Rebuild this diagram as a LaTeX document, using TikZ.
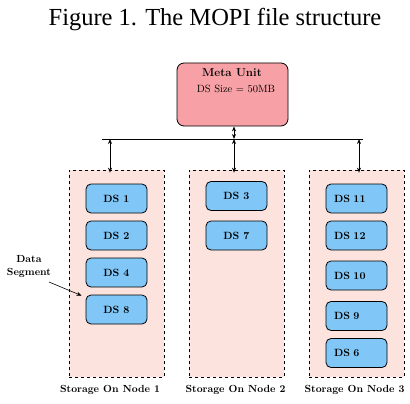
\documentclass[tikz,border=0pt]{standalone}
\usepackage{fontspec}
\newfontfamily\titlefont{Liberation Serif}
\usetikzlibrary{arrows.meta}
\definecolor{metafill}{RGB}{247,161,166}
\definecolor{storefill}{RGB}{253,227,222}
\definecolor{dsfill}{RGB}{128,198,247}
\tikzset{
  store/.style={draw=black, dashed, fill=storefill, minimum width=95pt, minimum height=207pt, inner sep=0pt, line width=0.7pt},
  dsbox/.style={draw=black, fill=dsfill, rounded corners=5pt, minimum width=61pt, minimum height=29pt, inner sep=0pt, line width=0.8pt, font=\fontsize{10.5}{12}\selectfont\bfseries},
  dsleft/.style={dsbox, text width=45pt, inner xsep=8pt, align=left},
  lbl/.style={font=\fontsize{10.3}{12}\selectfont\bfseries, inner sep=0pt},
  dbl/.style={{Stealth[length=5pt,width=4pt]}-{Stealth[length=5pt,width=4pt]}, line width=0.9pt},
  onearrow/.style={-{Stealth[length=5pt,width=4pt]}, line width=0.6pt}
}
\begin{document}
\begin{tikzpicture}[x=1pt,y=-1pt]
\useasboundingbox (0,0) rectangle (410,404);
\node[font=\titlefont\fontsize{24.5}{28}\selectfont, inner sep=0pt] (title) at (215,20) {Figure 1. The MOPI file structure};
% meta unit
\node[draw=black, fill=metafill, rounded corners=7pt, minimum width=111pt, minimum height=63pt, inner sep=0pt, line width=0.8pt] (meta) at (232.5,94.5) {};
\node[font=\fontsize{11.5}{13}\selectfont\bfseries, inner sep=0pt] (metat) at (232,73) {Meta Unit};
\node[font=\fontsize{10.5}{12}\selectfont, inner sep=0pt] (metas) at (236,89) {DS Size = 50MB};
% bus
\coordinate (busL) at (102,139);
\coordinate (busR) at (363,139);
\coordinate (b1) at (110,139);
\coordinate (b2) at (234,139);
\coordinate (b3) at (359,139);
\draw[line width=0.8pt] (busL) -- (busR);
% storage
\node[store] (s1) at (116.5,273.5) {};
\node[store] (s2) at (236.5,273.5) {};
\node[store] (s3) at (356.5,273.5) {};
\draw[dbl] (b2 |- meta.south) -- (b2);
\draw[dbl] (b1) -- ([yshift=-3pt]b1 |- s1.north);
\draw[dbl] (b2) -- ([yshift=-3pt]b2 |- s2.north);
\draw[dbl] (b3) -- ([yshift=-3pt]b3 |- s3.north);
% DS boxes
\node[dsbox] (ds1) at (116.5,198.5) {DS 1};
\node[dsbox] (ds2) at (116.5,235.5) {DS 2};
\node[dsbox] (ds4) at (116.5,272.5) {DS 4};
\node[dsbox] (ds8) at (116.5,309.5) {DS 8};
\node[dsbox] (ds3) at (236.5,196) {DS 3};
\node[dsbox] (ds7) at (236.5,235.5) {DS 7};
\node[dsleft] (ds11) at (356.5,198.5) {DS 11};
\node[dsleft] (ds12) at (356.5,235.5) {DS 12};
\node[dsleft] (ds10) at (356.5,275.5) {DS 10};
\node[dsleft] (ds9) at (356.5,316) {DS 9};
\node[dsleft] (ds6) at (356.5,353) {DS 6};
% labels
\node[lbl] (l1) at (110,390) {Storage On Node 1};
\node[lbl] (l2) at (235.5,390) {Storage On Node 2};
\node[lbl] (l3) at (354.5,390) {Storage On Node 3};
\node[lbl, align=center, font=\fontsize{10.3}{13}\selectfont\bfseries] (dlab) at (29,266.5) {Data\\Segment};
\coordinate (dtail) at (49,282);
\draw[onearrow] (dtail) -- ([shift={(-4,1)}]ds8.north west);
\end{tikzpicture}
\end{document}
